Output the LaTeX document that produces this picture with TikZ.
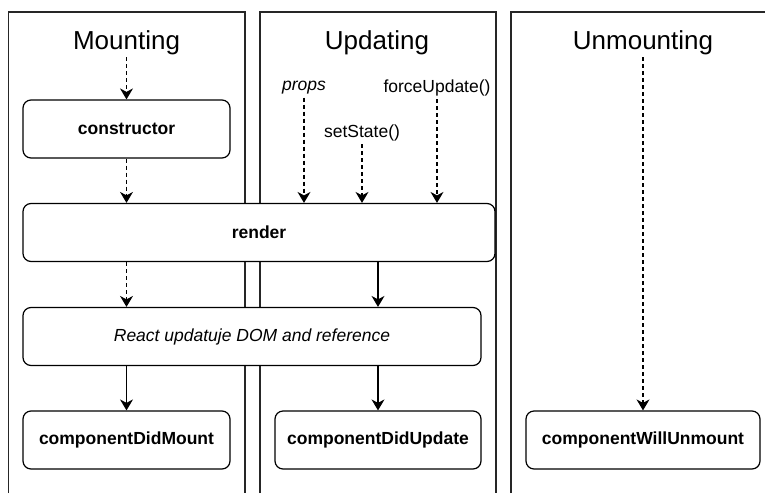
\documentclass[tikz,border=0pt]{standalone}
\usepackage{fontspec}
\setmainfont{Liberation Sans}
\usetikzlibrary{arrows.meta}

\begin{document}
\begin{tikzpicture}[x=1pt, y=-1pt, >={Stealth[length=11pt, width=13pt, inset=3.5pt]},
    phase/.style={inner sep=2pt, font=\fontsize{26}{30}\selectfont},
    method/.style={rectangle, rounded corners=8pt, draw, fill=white, line width=1.2pt, minimum height=58pt, inner sep=0pt, font=\fontsize{17.5}{21}\selectfont\bfseries},
    trigger/.style={inner sep=3pt, font=\fontsize{17.5}{21}\selectfont},
    lane/.style={line width=1.3pt, draw=black!85},
    flow/.style={->, line width=1.2pt},
    maybe/.style={flow, dash pattern=on 4pt off 3pt}]

    \useasboundingbox (0,0) rectangle (765,493);

    % Lanes, open at the bottom.
    \draw[lane] (8.5,493) |- (245,12) -- (245,493);
    \draw[lane] (260,493) |- (496,12) -- (496,493);
    \draw[lane] (511,493) |- (766,12);

    % Lane titles.
    \node[phase] (mount) at (126.5,43) {Mounting};
    \node[phase] (update) at (377,43) {Updating};
    \node[phase] (unmount) at (643,43) {Unmounting};

    % Lifecycle methods.
    \node[method, minimum width=207pt] (constructor) at (126.5,129) {constructor};
    \node[method, minimum width=472pt] (render) at (259,232.5) {render};
    \node[method, minimum width=458pt, font=\fontsize{17.5}{21}\selectfont\itshape] (react) at (252,336.5) {React updatuje DOM and reference};
    \node[method, minimum width=207pt] (didmount) at (126.5,440) {componentDidMount};
    \node[method, minimum width=206pt] (didupdate) at (378,440) {componentDidUpdate};
    \node[method, minimum width=234pt] (willunmount) at (643,440) {componentWillUnmount};

    % Update triggers.
    \node[trigger, font=\fontsize{17.5}{21}\selectfont\itshape] (props) at (304,88) {props};
    \node[trigger] (setstate) at (362,133) {setState()};
    \node[trigger] (forceupdate) at (437,88) {forceUpdate()};

    % Mounting.
    \draw[maybe] (mount) -- (constructor);
    \draw[maybe] (constructor) -- (constructor |- render.north);
    \draw[maybe] (constructor |- render.south) -- (constructor |- react.north);
    \draw[flow] (constructor |- react.south) -- (didmount);

    % Updating.
    \foreach \src in {props, setstate, forceupdate}
        \draw[maybe] (\src) -- (\src |- render.north);
    \draw[flow] (didupdate |- render.south) -- (didupdate |- react.north);
    \draw[flow] (didupdate |- react.south) -- (didupdate);

    % Unmounting.
    \draw[maybe] (unmount) -- (willunmount);

\end{tikzpicture}
\end{document}
